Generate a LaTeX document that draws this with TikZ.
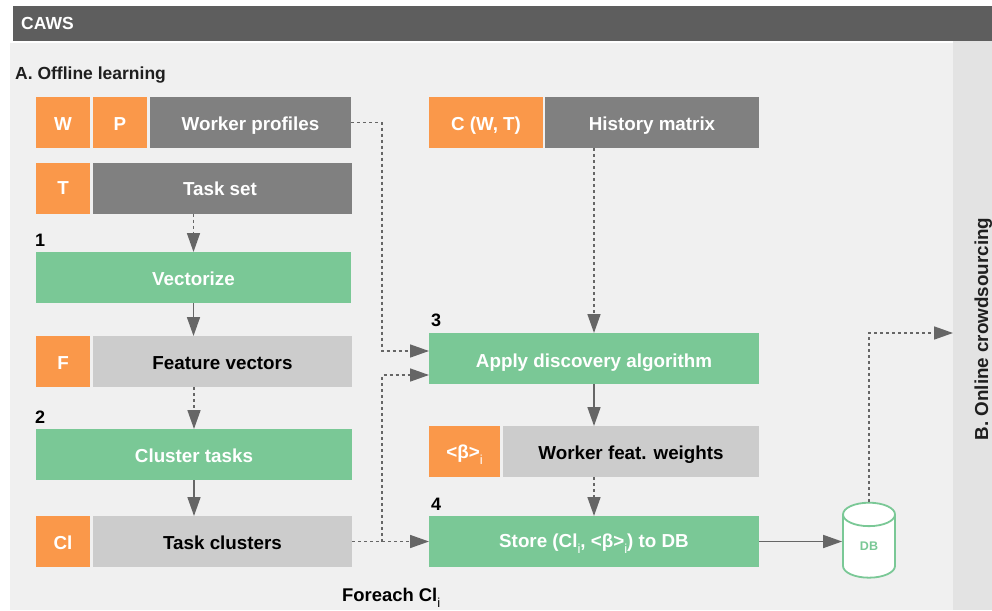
\documentclass[tikz,border=0pt]{standalone}
\usepackage{fontspec}
\setmainfont{Liberation Sans}
\usetikzlibrary{positioning,arrows.meta,shapes.geometric}
\definecolor{tagorange}{HTML}{FA984A}
\definecolor{stepgreen}{HTML}{7AC896}
\definecolor{datagray}{HTML}{808080}
\definecolor{resultgray}{HTML}{CCCCCC}
\definecolor{linegray}{HTML}{666666}
\newcommand{\subi}{\raisebox{-6pt}{\fontsize{13}{13}\selectfont\mdseries i}}
\tikzset{
  boxtext/.style={font=\fontsize{18.800}{22}\selectfont\bfseries,inner sep=0pt,outer sep=0pt,minimum height=51pt,text height=15pt,text depth=0pt},
  tagbox/.style={boxtext,fill=tagorange,text=white,minimum width=54pt},
  databox/.style={boxtext,fill=datagray,text=white},
  resultbox/.style={boxtext,fill=resultgray,text=black},
  stepbox/.style={boxtext,fill=stepgreen,text=white},
  stepnum/.style={font=\fontsize{18}{20}\selectfont\bfseries,inner sep=0pt,anchor=base west},
  heading/.style={font=\fontsize{17.5}{20}\selectfont\bfseries,inner sep=0pt,text=black!88},
  solidflow/.style={draw=linegray,line width=1.7pt,-{Triangle[length=19pt,width=13pt]}},
  dotflow/.style={draw=linegray,line width=1.6pt,dash pattern=on 3pt off 3pt,-{Triangle[length=19pt,width=13pt,fill=linegray]}}
}
\begin{document}
\begin{tikzpicture}[x=1pt,y=-1pt]
      \useasboundingbox (0,0) rectangle (992,610);
      \fill[white] (0,0) rectangle (992,610);
      \fill[black!6] (10,43) rectangle (953,610);
      \fill[black!11] (953,41) rectangle (992,610);
      \fill[black!63] (13,6) rectangle (992,41);

      \node [heading,text=white,anchor=base west] (caws) at (21,29.300) {CAWS};
      \node [heading,anchor=base west] (offline) at (15,79.300) {A. Offline learning};
      \node [heading,font=\fontsize{18.800}{20}\selectfont\bfseries,rotate=90,anchor=base] (online) at (988,329) {B. Online crowdsourcing};

      \node [tagbox,anchor=north west] (w) at (36,97) {W};
      \node [tagbox,right=3pt of w] (p) {P};
      \node [databox,right=3pt of p,minimum width=201pt] (profiles) {Worker profiles};
      \node [tagbox,below=14.500pt of w,text height=12pt] (t) {T};
      \node [databox,right=3pt of t,minimum width=259pt] (taskset) {Task set\hspace*{5pt}};
      \node [stepbox,below=38.500pt of t.south west,anchor=north west,minimum width=315pt] (vectorize) {Vectorize};
      \node [tagbox,below=33pt of vectorize.south west,anchor=north west] (f) {F};
      \node [resultbox,right=3pt of f,minimum width=259pt] (features) {Feature vectors};
      \node [stepbox,below=42pt of f.south west,anchor=north west,minimum width=316pt] (cluster) {Cluster tasks};
      \node [tagbox,below=36pt of cluster.south west,anchor=north west] (cl) {Cl};
      \node [resultbox,right=3pt of cl,minimum width=259pt] (clusters) {Task clusters};

      \node [tagbox,minimum width=114pt,anchor=north west] (c) at (429,97) {C (W, T)};
      \node [databox,right=2pt of c,minimum width=214pt] (history) {History matrix};
      \node [stepbox,minimum width=330pt,anchor=north west,text height=18pt] (apply) at (429,333) {Apply discovery algorithm};
      \node [tagbox,minimum width=71pt,below=42pt of apply.south west,anchor=north west,text height=13pt] (beta) {<β>\subi};
      \node [resultbox,right=3pt of beta,minimum width=256pt] (weights) {Worker feat. weights};
      \node [stepbox,minimum width=330pt,anchor=north west,text height=11.500pt] (store) at (429,516) {Store (Cl\subi, <β>\subi) to DB};
      \node [cylinder,shape border rotate=90,aspect=1.3,draw=stepgreen,line width=1.8pt,fill=white,text=stepgreen,
             minimum width=52pt,minimum height=75pt,inner sep=0pt,font=\fontsize{12.5}{14}\selectfont\bfseries] (db) at (869,546.500) {DB};

      \node [stepnum] (n1) at (35,246) {1};
      \node [stepnum] (n2) at (35,423) {2};
      \node [stepnum] (n3) at (431,326) {3};
      \node [stepnum] (n4) at (431,510) {4};
      \node [inner sep=0pt,anchor=base west,font=\fontsize{18.400}{20}\selectfont\bfseries] (foreach) at (342,601.500) {Foreach Cl\subi};

      \coordinate (applyupper) at (429,351);
      \coordinate (applylower) at (429,375);
      \coordinate (fork) at (382,541.500);
      \coordinate (bandentry) at (953,333);

      \draw[dotflow] (vectorize.north |- taskset.south) -- (vectorize.north);
      \draw[solidflow] (vectorize.south) -- (vectorize.south |- features.north);
      \draw[dotflow] (cluster.north |- features.south) -- (cluster.north);
      \draw[solidflow] (cluster.south) -- (cluster.south |- clusters.north);
      \draw[dotflow] (apply.north |- history.south) -- (apply.north);
      \draw[solidflow] (apply.south) -- (apply.south |- weights.north);
      \draw[dotflow] (store.north |- weights.south) -- (store.north);
      \draw[dotflow] (profiles.east) -- ++(31,0) |- (applyupper);
      \draw[dotflow] (clusters.east) -- (store.west);
      \draw[dotflow] (fork) |- (applylower);
      \draw[solidflow] (store.east) -- (store.east -| db.west);
      \draw[dotflow] (db.top) |- (bandentry);
    \end{tikzpicture}
\end{document}
